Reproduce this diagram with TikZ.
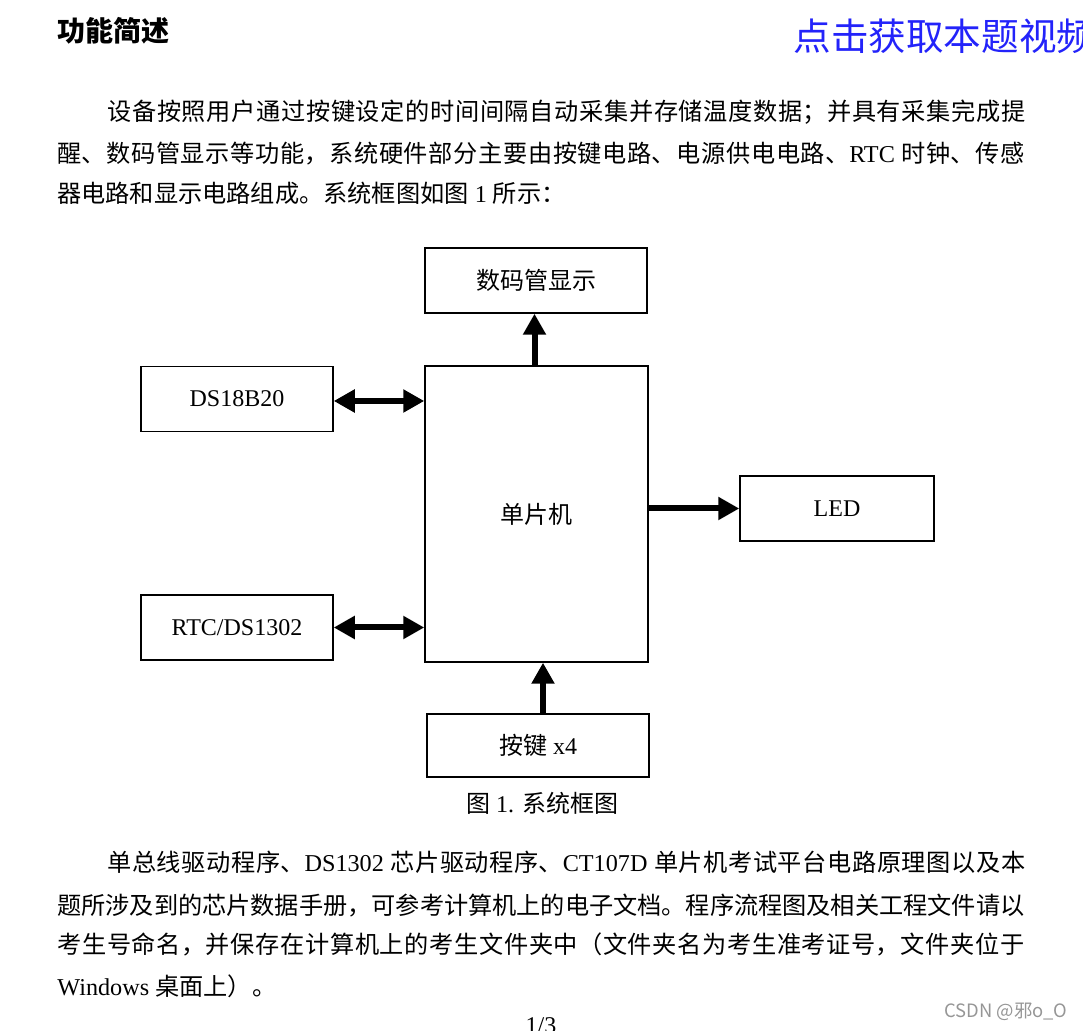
\documentclass[tikz,border=0pt]{standalone}
\usepackage{fontspec}
\setmainfont{Liberation Serif}
\newfontfamily\cjk{Noto Sans CJK SC}
\usetikzlibrary{arrows.meta}
\definecolor{linkblue}{RGB}{35,35,250}
\definecolor{markgray}{RGB}{150,150,150}
\XeTeXlinebreaklocale "zh"
\XeTeXlinebreakskip=0pt plus 2pt minus 0.2pt
\newcommand{\zh}[1]{{\cjk #1}}
% one justified line of the page text
\newcommand{\jline}[2]{\vbox{\hsize=#1\parindent=0pt\parfillskip=0pt\tolerance=9999\noindent #2\par}}

\begin{document}
\begin{tikzpicture}[x=0.5pt,y=-0.5pt,
	blk/.style = {draw, line width=.75pt, inner sep=0pt, font=\fontsize{12}{14}\selectfont},
	txt/.style = {anchor=base west, inner sep=0pt, font=\fontsize{12.1}{14}\selectfont},
	arr/.style = {line width=3pt, -{Triangle[length=10.5pt,width=11pt]}},
	darr/.style = {line width=3pt, {Triangle[length=10.5pt,width=11pt]}-{Triangle[length=10.5pt,width=11pt]}}]
	\useasboundingbox (0,0) rectangle (1083,1031);
	\clip (0,0) rectangle (1083,1031);
	% heading
	\node[anchor=base west, inner sep=0pt, font=\cjk\bfseries\fontsize{14}{16}\selectfont] (title) at (57,42) {功能简述};
	\node[anchor=base west, inner sep=0pt, text=linkblue, font=\cjk\fontsize{18.8}{20}\selectfont] (link) at (793,51) {点击获取本题视频};
	% first paragraph
	\node[txt] (pa) at (107,121) {\jline{459pt}{\zh{设备按照用户通过按键设定的时间间隔自动采集并存储温度数据；并具有采集完成提}}};
	\node[txt] (pb) at (57,163) {\jline{483.5pt}{\zh{醒、数码管显示等功能，系统硬件部分主要由按键电路、电源供电电路、}RTC \zh{时钟、传感}}};
	\node[txt] (pc) at (57,203) {\zh{器电路和显示电路组成。系统框图如图} 1 \zh{所示：}};
	% blocks
	\node[blk, minimum width=111pt, minimum height=32.5pt] (seg) at (536,280.5) {\zh{数码管显示}};
	\node[blk, minimum width=111.5pt, minimum height=148pt] (mcu) at (536.5,514) {\zh{单片机}};
	\node[blk, minimum width=96pt, minimum height=32.5pt] (ds) at (237,399) {DS18B20};
	\node[blk, minimum width=96pt, minimum height=32.5pt] (rtc) at (237,627.5) {RTC/DS1302};
	\node[blk, minimum width=97pt, minimum height=32.5pt] (led) at (837,508.5) {LED};
	\node[blk, minimum width=111pt, minimum height=31.5pt] (key) at (538,745.5) {\zh{按键} x4};
	\draw[arr] ([xshift=-1pt]mcu.north) -- ([xshift=-1pt]mcu.north |- seg.south);
	\draw[darr] ([yshift=-1pt]ds.east) -- ([yshift=-1pt]ds.east -| mcu.west);
	\draw[darr] (rtc.east) -- (rtc.east -| mcu.west);
	\draw[arr] (led.west -| mcu.east) -- (led.west);
	\draw[arr] ([xshift=2.5pt]key.north) -- ([xshift=2.5pt]key.north |- mcu.south);
	\node[inner sep=0pt, font=\fontsize{12}{14}\selectfont] (cap) at (542,803) {\zh{图} 1. \zh{系统框图}};
	% second paragraph
	\node[txt] (qa) at (107,872) {\jline{459pt}{\zh{单总线驱动程序、}DS1302 \zh{芯片驱动程序、}CT107D \zh{单片机考试平台电路原理图以及本}}};
	\node[txt] (qb) at (57,915) {\jline{483.5pt}{\zh{题所涉及到的芯片数据手册，可参考计算机上的电子文档。程序流程图及相关工程文件请以}}};
	\node[txt] (qc) at (57,954) {\jline{483.5pt}{\zh{考生号命名，并保存在计算机上的考生文件夹中（文件夹名为考生准考证号，文件夹位于}}};
	\node[txt] (qd) at (57,996) {Windows \zh{桌面上）。}};
	% footer
	\node[anchor=east, inner sep=0pt, text=markgray, font=\cjk\fontsize{9.2}{10}\selectfont] (mark) at (1068,1012) {CSDN @邪o\_O};
	\node[anchor=base, inner sep=0pt, font=\fontsize{12}{14}\selectfont] (page) at (541,1034) {1/3};
\end{tikzpicture}
\end{document}
